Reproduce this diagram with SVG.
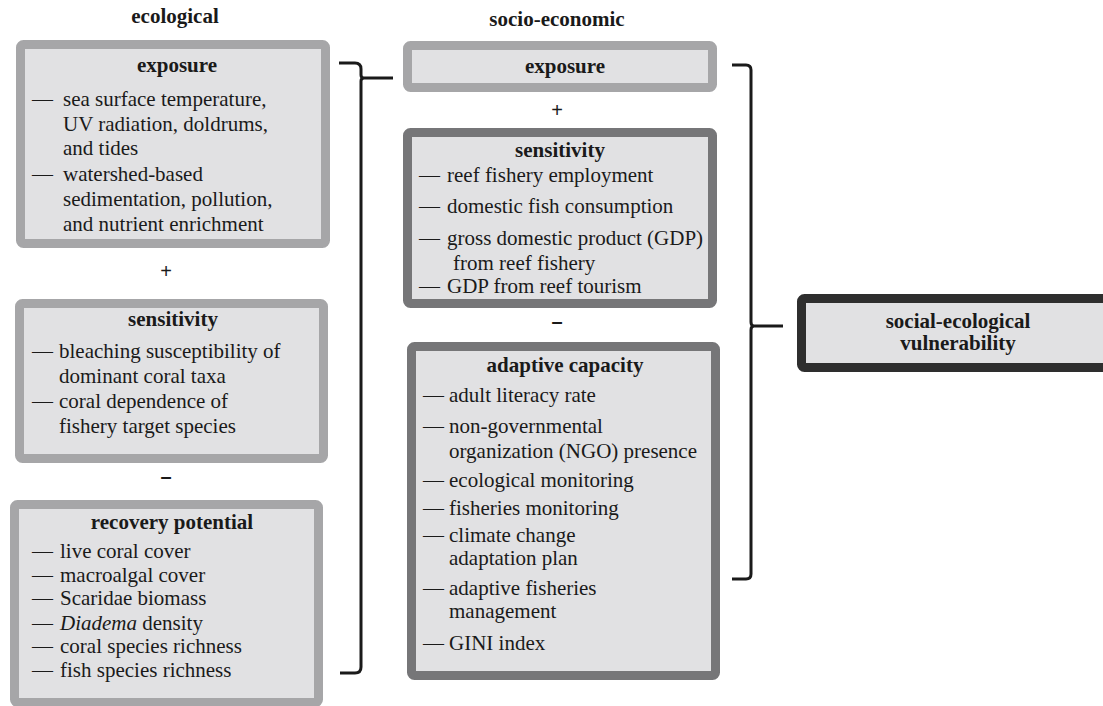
<svg xmlns="http://www.w3.org/2000/svg" width="1103" height="706" viewBox="0 0 1103 706">
<style>
.box{fill:#e1e1e3;stroke-width:9}
.light{stroke:#a6a6a8}
.dark{stroke:#767678}
.black{stroke:#2e2e2e}
text{font-family:"Liberation Serif","Times New Roman",serif;font-size:21px;fill:#1a1a1a}
.b{font-weight:bold}
.c{text-anchor:middle}
.op{font-family:"Liberation Sans",Arial,sans-serif;font-size:20px;text-anchor:middle}
.br{fill:none;stroke:#1a1a1a;stroke-width:3;stroke-linejoin:round}
</style>
<rect width="1103" height="706" fill="#ffffff"/>
<text class="b c" x="175" y="23">ecological</text>
<text class="b c" x="557" y="26">socio-economic</text>

<g id="eco-exposure">
<rect class="box light" x="20.5" y="44.5" width="305" height="199" rx="3"/>
<text class="b c" x="177" y="72">exposure</text>
<text><tspan x="32" y="106">—</tspan><tspan x="63" y="106">sea surface temperature,</tspan></text>
<text x="63" y="131">UV radiation, doldrums,</text>
<text x="63" y="155">and tides</text>
<text><tspan x="32" y="181">—</tspan><tspan x="63" y="181">watershed-based</tspan></text>
<text x="63" y="206">sedimentation, pollution,</text>
<text x="63" y="231">and nutrient enrichment</text>
</g>
<text class="op" x="166" y="278">+</text>

<g id="eco-sensitivity">
<rect class="box light" x="19.5" y="303.5" width="304" height="155" rx="3"/>
<text class="b c" x="173" y="326">sensitivity</text>
<text><tspan x="32" y="358">—</tspan><tspan x="59" y="358">bleaching susceptibility of</tspan></text>
<text x="59" y="383">dominant coral taxa</text>
<text><tspan x="32" y="408">—</tspan><tspan x="59" y="408">coral dependence of</tspan></text>
<text x="59" y="433">fishery target species</text>
</g>
<text class="op b" x="166" y="483">–</text>

<g id="eco-recovery">
<rect class="box light" x="14.5" y="504.5" width="304" height="198" rx="3"/>
<text class="b c" x="172" y="529">recovery potential</text>
<text><tspan x="32" y="558">—</tspan><tspan x="60" y="558">live coral cover</tspan></text>
<text><tspan x="32" y="582">—</tspan><tspan x="60" y="582">macroalgal cover</tspan></text>
<text><tspan x="32" y="605">—</tspan><tspan x="60" y="605">Scaridae biomass</tspan></text>
<text><tspan x="32" y="630">—</tspan><tspan x="60" y="630" font-style="italic">Diadema</tspan><tspan> density</tspan></text>
<text><tspan x="32" y="653">—</tspan><tspan x="60" y="653">coral species richness</tspan></text>
<text><tspan x="32" y="677">—</tspan><tspan x="60" y="677">fish species richness</tspan></text>
</g>

<g id="soc-exposure">
<rect class="box light" x="407.5" y="45.5" width="305" height="42" rx="3"/>
<text class="b c" x="565" y="73">exposure</text>
</g>
<text class="op" x="557" y="117">+</text>

<g id="soc-sensitivity">
<rect class="box dark" x="407.5" y="132.5" width="305" height="171" rx="3"/>
<text class="b c" x="560" y="157">sensitivity</text>
<text><tspan x="419" y="182">—</tspan><tspan x="447" y="182">reef fishery employment</tspan></text>
<text><tspan x="419" y="213">—</tspan><tspan x="447" y="213">domestic fish consumption</tspan></text>
<text><tspan x="419" y="245">—</tspan><tspan x="447" y="245">gross domestic product (GDP)</tspan></text>
<text x="453" y="270">from reef fishery</text>
<text><tspan x="419" y="293">—</tspan><tspan x="447" y="293">GDP from reef tourism</tspan></text>
</g>
<text class="op b" x="557" y="328">–</text>

<g id="soc-adaptive">
<rect class="box dark" x="411.5" y="346.5" width="304" height="329" rx="3"/>
<text class="b c" x="565" y="372">adaptive capacity</text>
<text><tspan x="423" y="402">—</tspan><tspan x="449" y="402">adult literacy rate</tspan></text>
<text><tspan x="423" y="433">—</tspan><tspan x="449" y="433">non-governmental</tspan></text>
<text x="449" y="458">organization (NGO) presence</text>
<text><tspan x="423" y="487">—</tspan><tspan x="449" y="487">ecological monitoring</tspan></text>
<text><tspan x="423" y="515">—</tspan><tspan x="449" y="515">fisheries monitoring</tspan></text>
<text><tspan x="423" y="542">—</tspan><tspan x="449" y="542">climate change</tspan></text>
<text x="449" y="565">adaptation plan</text>
<text><tspan x="423" y="595">—</tspan><tspan x="449" y="595">adaptive fisheries</tspan></text>
<text x="449" y="618">management</text>
<text><tspan x="423" y="650">—</tspan><tspan x="449" y="650">GINI index</tspan></text>
</g>

<g id="vulnerability">
<rect class="box black" x="801.5" y="298.5" width="310" height="69" rx="3"/>
<text class="b c" x="958" y="328">social-ecological</text>
<text class="b c" x="958" y="350">vulnerability</text>
</g>

<g id="connectors">
<path class="br" d="M339,63 L355,63 Q361,63 361,69 L361,75 Q361,78 364,78 L393,78 M364,78 Q361,78 361,81 L361,667 Q361,673 355,673 L340,673"/>
<path class="br" d="M732,65 L746,65 Q751,65 751,70 L751,322 Q751,326 754,326 L783,326 M754,326 Q751,326 751,330 L751,574 Q751,579 746,579 L732,579"/>
</g>
</svg>
